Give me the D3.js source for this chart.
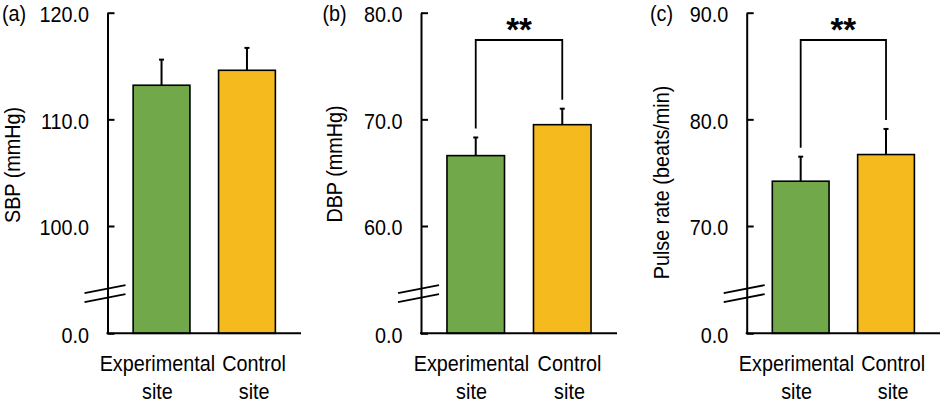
<!DOCTYPE html>
<html>
<head>
<meta charset="utf-8">
<script src="https://cdn.jsdelivr.net/npm/d3@7/dist/d3.min.js"></script>
<style>
  html, body { margin: 0; padding: 0; background: #fff; }
  svg { display: block; font-family: "Liberation Sans", Arial, sans-serif; }
</style>
</head>
<body>
<svg id="chart" width="943" height="402"></svg>
<script>
// ---- data ----
const categories = ["Experimental site", "Control site"];
const sbpMean = [113.2, 114.6];
const sbpSD = [2.4, 2.1];
const dbpMean = [66.6, 69.5];
const dbpSD = [1.7, 1.5];
const pulseMean = [74.2, 76.7];
const pulseSD = [2.3, 2.4];
const sbpTicks = [0, 100, 110, 120];
const dbpTicks = [0, 60, 70, 80];
const pulseTicks = [0, 70, 80, 90];
const panelLabels = ["(a)", "(b)", "(c)"];
const yTitles = ["SBP (mmHg)", "DBP (mmHg)", "Pulse rate (beats/min)"];
const significance = ["", "**", "**"];
const barColors = ["#70A84A", "#F5BB1E"];

// ---- layout ----
const panels = [
  { mean: sbpMean, sd: sbpSD, ticks: sbpTicks, x0: 107.5, x1: 301, titleX: 19.5, titleY: 165, labelX: 2 },
  { mean: dbpMean, sd: dbpSD, ticks: dbpTicks, x0: 421, x1: 617, titleX: 341.5, titleY: 164, labelX: 322.5 },
  { mean: pulseMean, sd: pulseSD, ticks: pulseTicks, x0: 746.7, x1: 940, titleX: 669, titleY: 182.5, labelX: 650 }
];
const yBottom = 333.3, yLow = 226, yTop = 12.7;
const fontSize = 22;
const sx = 0.9;

const svg = d3.select("#chart");

function addText(parent, x, y, str, anchor, rotate) {
  return parent.append("text")
    .attr("transform", `translate(${x},${y})${rotate ? " rotate(-90)" : ""} scale(${sx},1)`)
    .attr("text-anchor", anchor || "start")
    .style("font-size", fontSize + "px")
    .attr("fill", "#000")
    .text(str);
}

panels.forEach((p, i) => {
  const g = svg.append("g");
  const t = p.ticks;
  const y = d3.scaleLinear().domain([t[0], t[1], t[3]]).range([yBottom, yLow, yTop]);
  const xBar = d3.scaleBand().domain(categories).range([p.x0, p.x1]).paddingInner(0.335).paddingOuter(0.3);
  const xLab = d3.scaleBand().domain(categories).range([p.x0, p.x1]).padding(0);

  // bars
  g.selectAll("rect.bar").data(categories).enter().append("rect")
    .attr("x", d => xBar(d))
    .attr("y", (d, j) => y(p.mean[j]))
    .attr("width", xBar.bandwidth())
    .attr("height", (d, j) => y(0) - y(p.mean[j]))
    .attr("fill", (d, j) => barColors[j])
    .attr("stroke", "#000").attr("stroke-width", 1.6);

  // error bars
  categories.forEach((c, j) => {
    const cx = xBar(c) + xBar.bandwidth() / 2;
    g.append("line").attr("x1", cx).attr("x2", cx)
      .attr("y1", y(p.mean[j])).attr("y2", y(p.mean[j] + p.sd[j]))
      .attr("stroke", "#000").attr("stroke-width", 2);
    g.append("line").attr("x1", cx - 2.5).attr("x2", cx + 2.5)
      .attr("y1", y(p.mean[j] + p.sd[j])).attr("y2", y(p.mean[j] + p.sd[j]))
      .attr("stroke", "#000").attr("stroke-width", 2);
  });

  // y axis
  const yAxis = d3.axisRight(y).tickValues(t).tickSizeInner(7).tickSizeOuter(0).tickFormat(d3.format(".1f"));
  const ax = g.append("g").attr("transform", `translate(${p.x0},0)`).call(yAxis);
  ax.select(".domain").attr("stroke", "#000").attr("stroke-width", 2);
  ax.selectAll(".tick line").attr("stroke", "#000").attr("stroke-width", 2);
  ax.selectAll(".tick text")
    .attr("x", 0).attr("dy", "0.36em")
    .attr("transform", `translate(-18.5,1) scale(${sx},1)`)
    .attr("text-anchor", "end")
    .attr("fill", "#000").style("font-size", fontSize + "px").style("font-family", "Liberation Sans, Arial, sans-serif");

  // x axis line
  g.append("line").attr("x1", p.x0 - 1).attr("x2", p.x1)
    .attr("y1", y(0)).attr("y2", y(0)).attr("stroke", "#000").attr("stroke-width", 2);

  // category labels (two lines)
  categories.forEach(c => {
    const words = c.split(" ");
    const cx = xLab(c) + xLab.bandwidth() / 2 + 1.5;
    addText(g, cx, 371, words[0], "middle");
    addText(g, cx, 398.5, words.slice(1).join(" "), "middle");
  });

  // axis break marks
  const by = y(0) + (y(t[1]) - y(0)) * 0.37;
  [-4.5, 4.5].forEach(off => {
    g.append("line")
      .attr("x1", p.x0 - 23).attr("y1", by + off + 4)
      .attr("x2", p.x0 + 18).attr("y2", by + off - 4)
      .attr("stroke", "#000").attr("stroke-width", 1.8);
  });

  // y title
  addText(g, p.titleX, p.titleY, yTitles[i], "middle", true);

  // panel label
  addText(g, p.labelX, y(t[3]) + 8.5, panelLabels[i], "start");

  // significance bracket
  if (significance[i]) {
    const c0 = xBar(categories[0]) + xBar.bandwidth() / 2;
    const c1 = xBar(categories[1]) + xBar.bandwidth() / 2;
    const top = 40;
    const e0 = y(p.mean[0] + p.sd[0]) - 9;
    const e1 = y(p.mean[1] + p.sd[1]) - 9;
    g.append("path")
      .attr("d", `M${c0},${e0}V${top}H${c1}V${e1}`)
      .attr("fill", "none").attr("stroke", "#000").attr("stroke-width", 1.8);
    g.append("text").attr("x", (c0 + c1) / 2).attr("y", 41)
      .attr("text-anchor", "middle").style("font-size", "33px").style("font-weight", "bold")
      .attr("fill", "#000").text(significance[i]);
  }
});
</script>
</body>
</html>
